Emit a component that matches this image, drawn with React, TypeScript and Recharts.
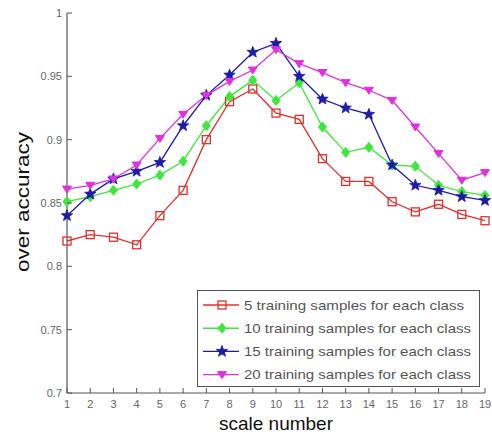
import React from 'react';
import { LineChart, Line, XAxis, YAxis, Label } from 'recharts';

const scales = [1, 2, 3, 4, 5, 6, 7, 8, 9, 10, 11, 12, 13, 14, 15, 16, 17, 18, 19];
const s5 = [0.820, 0.825, 0.823, 0.817, 0.840, 0.860, 0.900, 0.930, 0.940, 0.921, 0.916, 0.885, 0.867, 0.867, 0.851, 0.843, 0.849, 0.841, 0.836];
const s10 = [0.851, 0.855, 0.860, 0.865, 0.872, 0.883, 0.911, 0.934, 0.947, 0.931, 0.945, 0.910, 0.890, 0.894, 0.880, 0.879, 0.864, 0.859, 0.856];
const s15 = [0.840, 0.857, 0.869, 0.875, 0.882, 0.911, 0.935, 0.951, 0.969, 0.976, 0.950, 0.932, 0.925, 0.920, 0.880, 0.864, 0.860, 0.855, 0.852];
const s20 = [0.861, 0.864, 0.869, 0.880, 0.901, 0.920, 0.935, 0.946, 0.955, 0.971, 0.960, 0.953, 0.945, 0.939, 0.931, 0.910, 0.889, 0.868, 0.874];
const yTicks = [0.7, 0.75, 0.8, 0.85, 0.9, 0.95, 1];
const yTickLabels = ['0.7', '0.75', '0.8', '0.85', '0.9', '0.95', '1'];
const seriesNames = [
  '5 training samples for each class',
  '10 training samples for each class',
  '15 training samples for each class',
  '20 training samples for each class',
];

const data = scales.map((s, i) => ({ s, a: s5[i], b: s10[i], c: s15[i], d: s20[i] }));

const RED = '#e0302a';
const GREEN = '#3de83d';
const BLUE = '#1c1ca8';
const MAG = '#e030e0';
const AX = '#555';
const TICKFONT = '"Liberation Sans", Arial, sans-serif';

function starPath(cx: number, cy: number, r: number) {
  const pts: string[] = [];
  for (let i = 0; i < 10; i++) {
    const rr = i % 2 === 0 ? r : r * 0.42;
    const a = -Math.PI / 2 + (i * Math.PI) / 5;
    pts.push(`${cx + rr * Math.cos(a)},${cy + rr * Math.sin(a)}`);
  }
  return 'M' + pts.join('L') + 'Z';
}

function Marker({ kind, cx, cy }: { kind: string; cx: number; cy: number }) {
  if (kind === 'square')
    return <rect x={cx - 4} y={cy - 4} width={8} height={8} fill="none" stroke={RED} strokeWidth={1.3} />;
  if (kind === 'diamond')
    return <path d={`M${cx},${cy - 5}L${cx + 4},${cy}L${cx},${cy + 5}L${cx - 4},${cy}Z`} fill={GREEN} stroke={GREEN} strokeWidth={1} />;
  if (kind === 'star')
    return <path d={starPath(cx, cy, 6)} fill={BLUE} stroke={BLUE} strokeWidth={0.8} />;
  return <path d={`M${cx - 4.5},${cy - 3}L${cx + 4.5},${cy - 3}L${cx},${cy + 4}Z`} fill={MAG} stroke={MAG} strokeWidth={1} />;
}

const makeDot = (kind: string) => (props: any) => (
  <g key={`${kind}-${props.index}`}>
    <Marker kind={kind} cx={props.cx} cy={props.cy} />
  </g>
);

const BottomTick = (props: any) => {
  const { x, y, payload } = props;
  return (
    <g>
      <line x1={x} y1={y} x2={x} y2={y - 5} stroke={AX} strokeWidth={1} />
      <text x={x} y={y + 15} textAnchor="middle" fontSize={11} fill="#666" fontFamily={TICKFONT}>
        {payload.value}
      </text>
    </g>
  );
};

const TopTick = (props: any) => {
  const { x, y } = props;
  return <line x1={x} y1={y} x2={x} y2={y + 5} stroke={AX} strokeWidth={1} />;
};

const LeftTick = (props: any) => {
  const { x, y, payload } = props;
  const idx = yTicks.findIndex((t) => Math.abs(t - payload.value) < 1e-9);
  return (
    <g>
      <line x1={x} y1={y} x2={x + 5} y2={y} stroke={AX} strokeWidth={1} />
      <text x={x - 5} y={y + 4} textAnchor="end" fontSize={11} fill="#666" fontFamily={TICKFONT}>
        {idx >= 0 ? yTickLabels[idx] : payload.value}
      </text>
    </g>
  );
};

const RightTick = (props: any) => {
  const { x, y } = props;
  return <line x1={x} y1={y} x2={x - 5} y2={y} stroke={AX} strokeWidth={1} />;
};

const legendItems = [
  { name: seriesNames[0], color: RED, kind: 'square', w: 220 },
  { name: seriesNames[1], color: GREEN, kind: 'diamond', w: 227 },
  { name: seriesNames[2], color: BLUE, kind: 'star', w: 227 },
  { name: seriesNames[3], color: MAG, kind: 'tri', w: 227 },
];

function LegendBox() {
  return (
    <svg width={284} height={98} style={{ position: 'absolute', left: 197, top: 290, display: 'block' }}>
      <rect x={0.5} y={0.5} width={282} height={96} fill="#fff" stroke={AX} strokeWidth={1} />
      {legendItems.map((it, i) => {
        const cy = 15 + i * 23.2;
        return (
          <g key={it.name}>
            <line x1={6} y1={cy} x2={42} y2={cy} stroke={it.color} strokeWidth={1.4} />
            <Marker kind={it.kind} cx={25} cy={cy} />
            <text x={47} y={cy + 4.5} fontSize={13} fill="#555" fontFamily={TICKFONT} textLength={it.w} lengthAdjust="spacingAndGlyphs">
              {it.name}
            </text>
          </g>
        );
      })}
    </svg>
  );
}

export default function App() {
  return (
    <div style={{ position: 'absolute', left: 0, top: 0, width: 492, height: 441, background: '#fff' }}>
      <LineChart width={492} height={441} data={data} margin={{ top: 13, right: 7, bottom: 0, left: 0 }}>
        <XAxis
          xAxisId="bottom"
          dataKey="s"
          type="number"
          domain={[1, 19]}
          ticks={scales}
          height={48}
          tickSize={0}
          tickMargin={0}
          tickLine={false}
          tick={<BottomTick />}
          axisLine={{ stroke: AX, strokeWidth: 1.2 }}
          interval={0}
        >
          <Label
            content={(p: any) => (
              <text x={p.viewBox.x + p.viewBox.width / 2} y={430} textAnchor="middle" fontSize={19} fill="#111" fontFamily="Liberation Sans, Arial, sans-serif" textLength={114} lengthAdjust="spacingAndGlyphs">
                scale number
              </text>
            )}
          />
        </XAxis>
        <XAxis
          xAxisId="top"
          dataKey="s"
          type="number"
          orientation="top"
          domain={[1, 19]}
          ticks={scales}
          height={0}
          tickSize={0}
          tickMargin={0}
          tickLine={false}
          tick={<TopTick />}
          axisLine={{ stroke: AX, strokeWidth: 1.2 }}
          interval={0}
        />
        <YAxis
          yAxisId="left"
          domain={[0.7, 1]}
          ticks={yTicks}
          width={67}
          tickSize={0}
          tickMargin={0}
          tickLine={false}
          tick={<LeftTick />}
          axisLine={{ stroke: AX, strokeWidth: 1.2 }}
          interval={0}
        >
          <Label
            content={() => {
              const cx = 29;
              const cy = 202;
              return (
                <text x={cx} y={cy} transform={`rotate(-90 ${cx} ${cy})`} textAnchor="middle" fontSize={19} fill="#111" fontFamily="Liberation Sans, Arial, sans-serif" textLength={140} lengthAdjust="spacingAndGlyphs">
                  over accuracy
                </text>
              );
            }}
          />
        </YAxis>
        <YAxis
          yAxisId="right"
          orientation="right"
          domain={[0.7, 1]}
          ticks={yTicks}
          width={0}
          tickSize={0}
          tickMargin={0}
          tickLine={false}
          tick={<RightTick />}
          axisLine={{ stroke: AX, strokeWidth: 1.2 }}
          interval={0}
        />
        <Line xAxisId="bottom" yAxisId="left" dataKey="a" name={seriesNames[0]} stroke={RED} strokeWidth={1.3} dot={makeDot('square')} isAnimationActive={false} />
        <Line xAxisId="bottom" yAxisId="left" dataKey="b" name={seriesNames[1]} stroke={GREEN} strokeWidth={1.3} dot={makeDot('diamond')} isAnimationActive={false} />
        <Line xAxisId="bottom" yAxisId="left" dataKey="c" name={seriesNames[2]} stroke={BLUE} strokeWidth={1.3} dot={makeDot('star')} isAnimationActive={false} />
        <Line xAxisId="bottom" yAxisId="left" dataKey="d" name={seriesNames[3]} stroke={MAG} strokeWidth={1.3} dot={makeDot('tri')} isAnimationActive={false} />
      </LineChart>
      <LegendBox />
    </div>
  );
}
